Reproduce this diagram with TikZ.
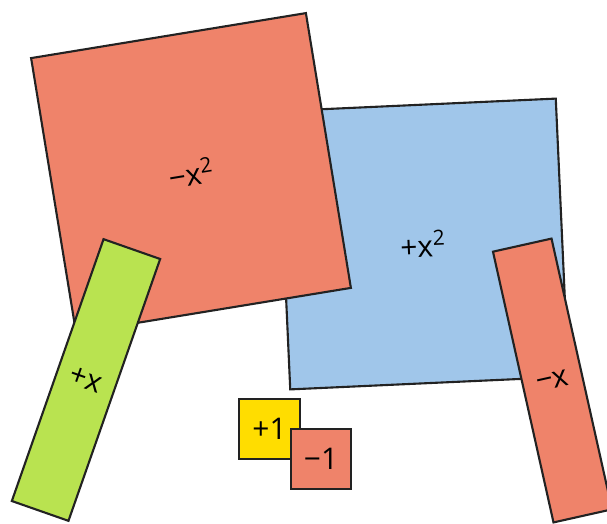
\documentclass[tikz,border=0pt]{standalone}
\usepackage{fontspec}
\setmainfont{Open Sans}
\usepackage{tikz}
\usetikzlibrary{positioning}
\definecolor{tileRed}{RGB}{239, 131, 106}
\definecolor{tileBlue}{RGB}{160, 198, 234}
\definecolor{tileGreen}{RGB}{185, 227, 80}
\definecolor{tileYellow}{RGB}{255, 221, 0}
\definecolor{tileEdge}{RGB}{34, 34, 34}

\begin{document}
\begin{tikzpicture}[x=0.02cm, y=-0.02cm,
    tile/.style={draw=tileEdge, line width=1.2pt, inner sep=0pt, font=\fontsize{17}{19}\selectfont},
    bigtile/.style={tile, minimum width=5.57cm, minimum height=5.57cm},
    longtile/.style={tile, minimum width=1.2cm, minimum height=5.55cm},
    unittile/.style={tile, minimum width=1.21cm, minimum height=1.21cm}]
  \useasboundingbox (0,0) rectangle (607,523);
  \clip (0,0) rectangle (607,523);

  % --- x^2 tiles ---
  \node[bigtile, fill=tileBlue, rotate=2.6] (posxsq) at (423,244) {+x\textsuperscript{2}};
  \node[bigtile, fill=tileRed, rotate=9.3] (negxsq) at (191,173) {−x\textsuperscript{2}};

  % --- x tiles ---
  \node[longtile, fill=tileGreen, rotate=-19.3] (posx) at (86,380) {+x};
  \node[longtile, fill=tileRed, rotate=12.6] (negx) at (552.5,380.5) {−x};

  % --- unit tiles ---
  \node[unittile, fill=tileYellow] (posone) at (269.5,429) {+1};
  \node[unittile, fill=tileRed] (negone) at (321,459) {−1};
\end{tikzpicture}
\end{document}
